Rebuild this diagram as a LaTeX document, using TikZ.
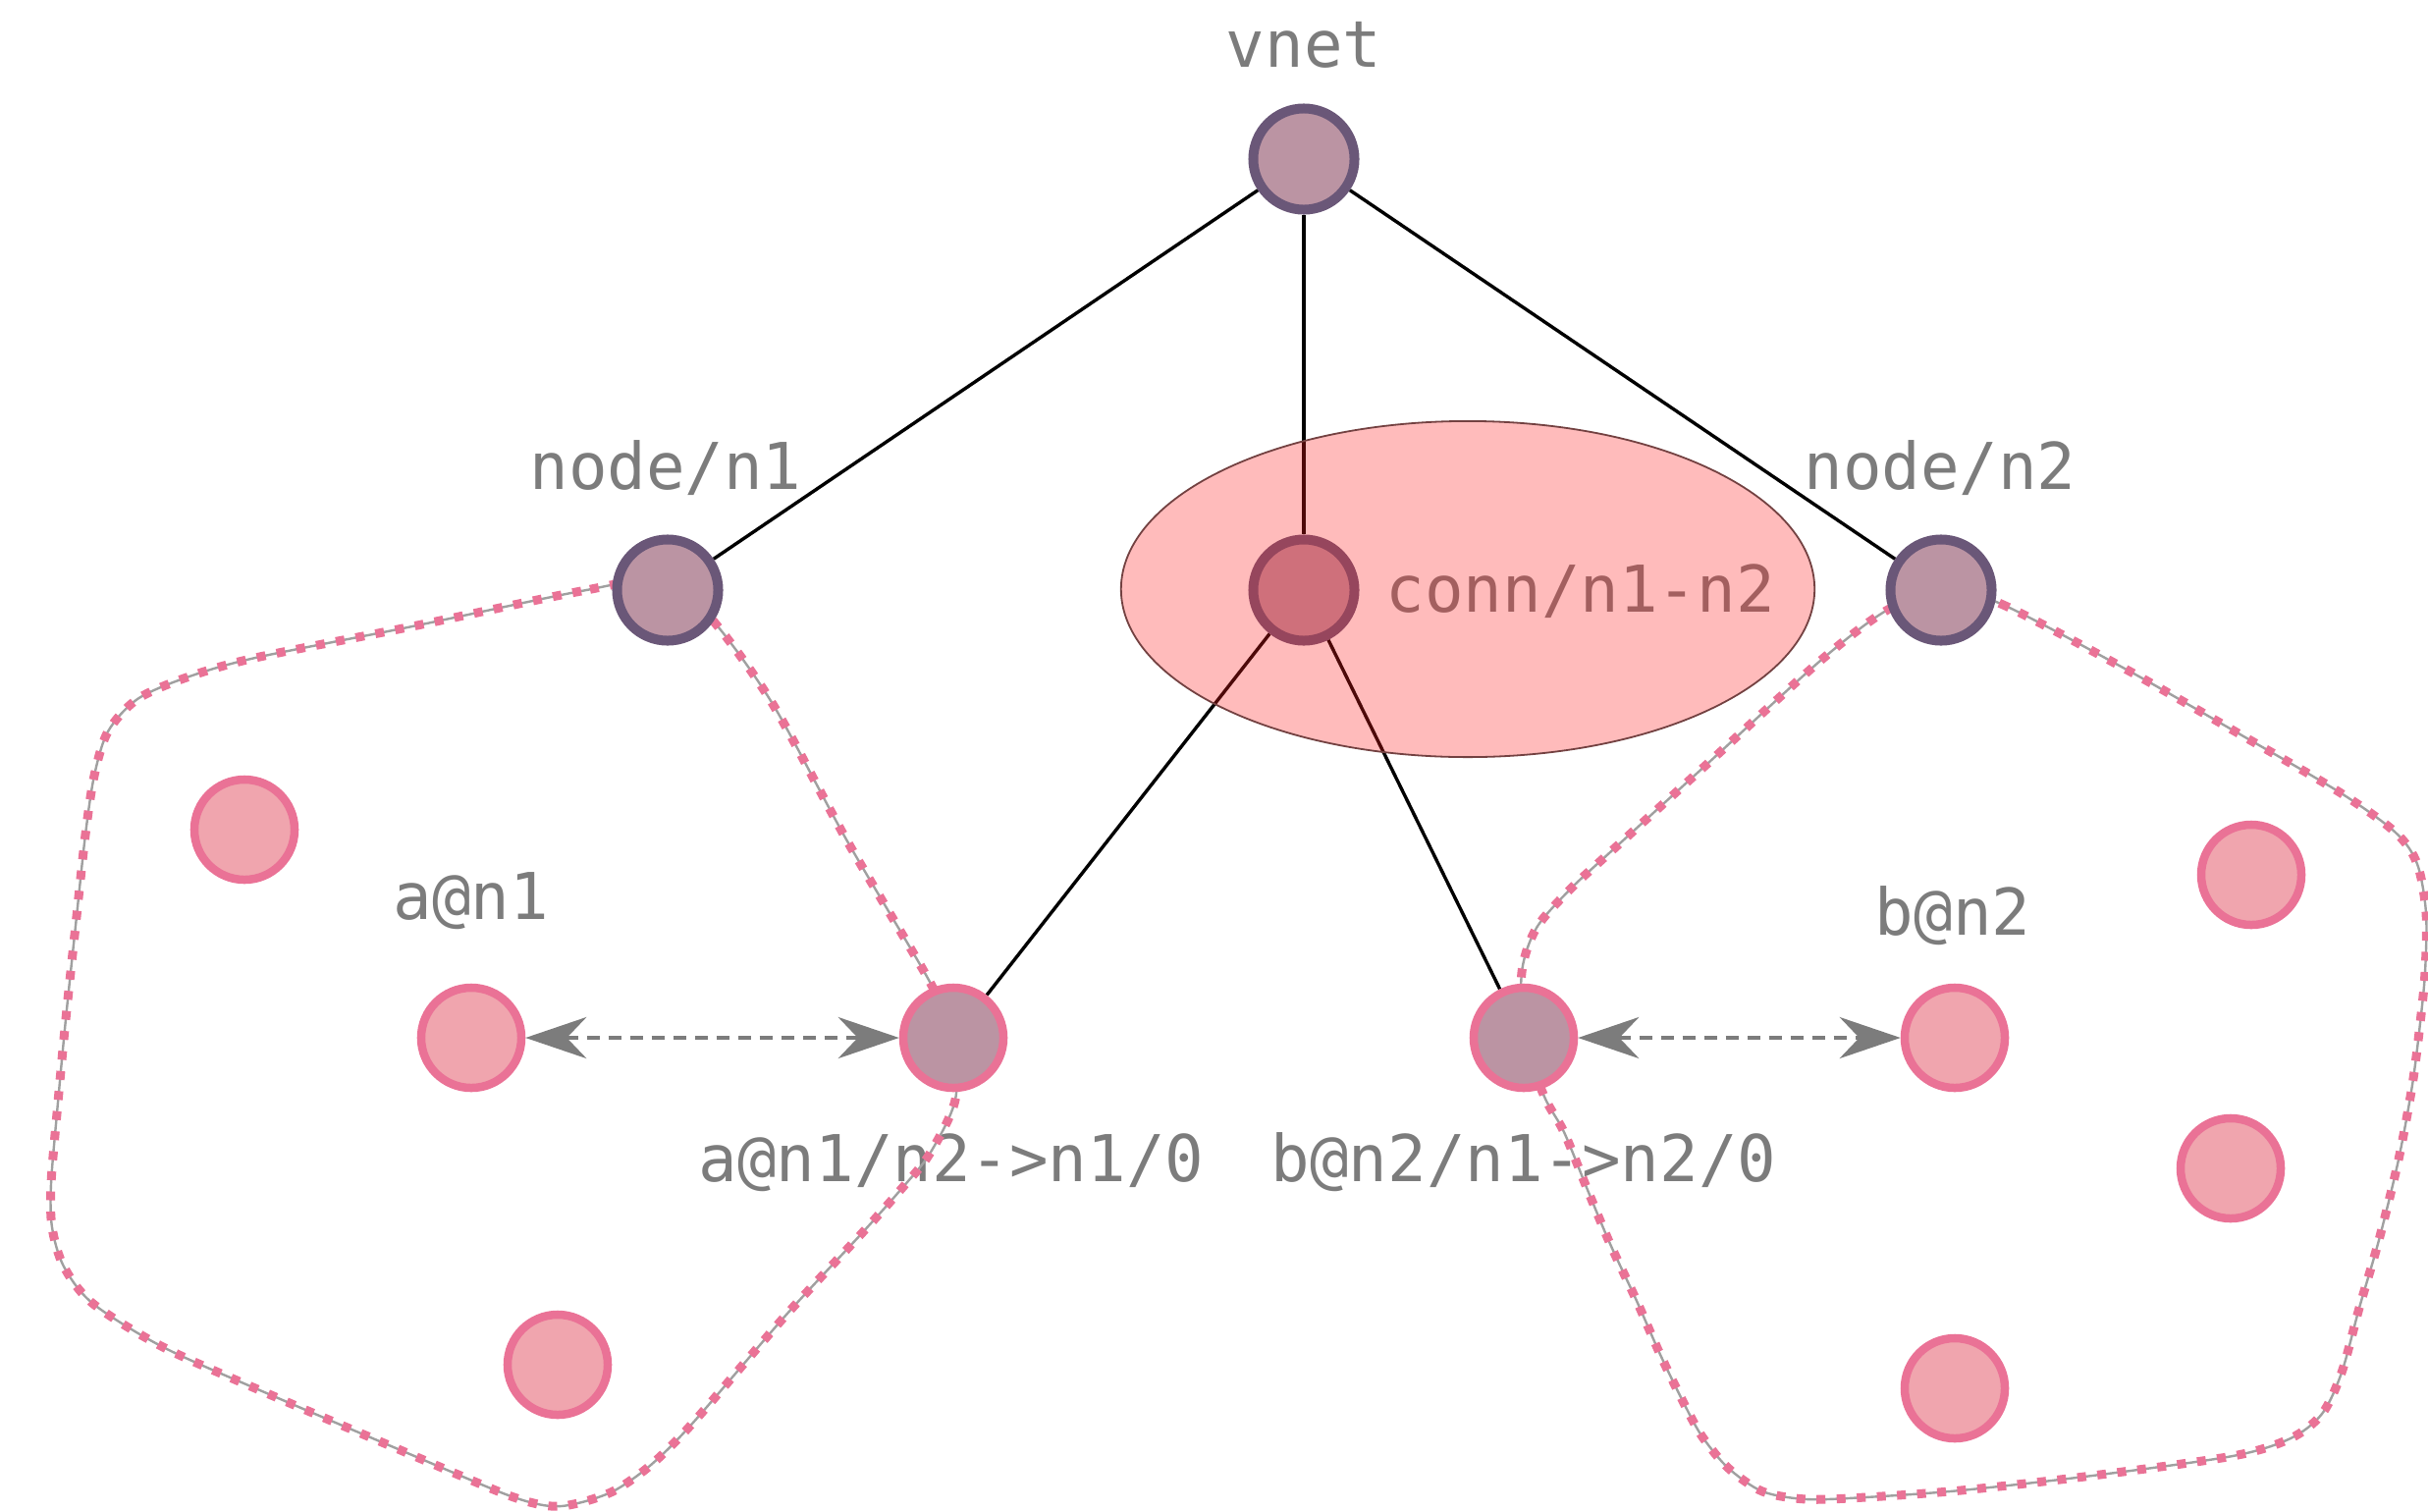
\documentclass[tikz,border=0pt]{standalone}
\usepackage{fontspec}
\newfontfamily\lblfont{DejaVu Sans Mono}
\usetikzlibrary{arrows.meta}
\definecolor{mauve}{RGB}{187,148,163}
\definecolor{plum}{RGB}{106,87,120}
\definecolor{rose}{RGB}{240,165,174}
\definecolor{roseedge}{RGB}{234,114,150}
\definecolor{labelgray}{RGB}{124,124,124}
\definecolor{zonegray}{RGB}{160,160,160}
\definecolor{connred}{RGB}{255,31,31}
\definecolor{connedge}{RGB}{115,65,65}
\pgfdeclarelayer{edges}
\pgfdeclarelayer{labels}
\pgfdeclarelayer{zones}
\pgfdeclarelayer{overlay}
\pgfsetlayers{edges,labels,zones,main,overlay}
\begin{document}
\begin{tikzpicture}[x=0.01cm,y=-0.01cm,
  hub/.style={circle,draw=plum,fill=mauve,line width=0.1cm,minimum size=1.03cm,inner sep=0pt},
  ep/.style={circle,draw=roseedge,fill=rose,line width=0.085cm,minimum size=1.02cm,inner sep=0pt},
  port/.style={circle,draw=roseedge,fill=mauve,line width=0.085cm,minimum size=1.02cm,inner sep=0pt},
  lbl/.style={inner sep=0pt,anchor=base,text=labelgray,font=\lblfont\fontsize{18.7pt}{22pt}\selectfont},
  link/.style={black,line width=0.034cm},
  veth/.style={labelgray,line width=0.04cm,dash pattern=on 0.13cm off 0.09cm,
    {Stealth[length=0.62cm,width=0.42cm,inset=0.2cm]}-{Stealth[length=0.62cm,width=0.42cm,inset=0.2cm]}},
  zone/.style={roseedge,line width=0.09cm,dash pattern=on 0.09cm off 0.115cm,
    preaction={draw=zonegray,line width=0.024cm,solid}},
  connzone/.style={fill=connred,fill opacity=0.3,draw=connedge,line width=0.018cm},
]
\useasboundingbox (0,0) rectangle (2473,1539);

% nodes
\node[hub] (vnet) at (1328,162) {};
\node[hub] (n1) at (680,601) {};
\node[hub] (n2) at (1977,601) {};
\node[hub] (conn) at (1328,601) {};
\node[port] (pa) at (971,1057) {};
\node[port] (pb) at (1552,1057) {};
\node[ep] (ea) at (480,1057) {};
\node[ep] (eb) at (1991,1057) {};
\node[ep] (a2) at (249,845) {};
\node[ep] (a3) at (568,1390) {};
\node[ep] (b2) at (2293,891) {};
\node[ep] (b3) at (2272,1190) {};
\node[ep] (b4) at (1991,1414) {};

% tree links and veth pairs
\begin{pgfonlayer}{edges}
\draw[link] (vnet) -- (n1);
\draw[link] (vnet) -- (conn);
\draw[link] (vnet) -- (n2);
\draw[link] (conn) -- (pa);
\draw[link] (conn) -- (pb);
\draw[veth] (ea) -- (pa);
\draw[veth] (pb) -- (eb);
\end{pgfonlayer}

% labels
\begin{pgfonlayer}{labels}
\node[lbl] (lvnet) at (1328,68) {vnet};
\node[lbl] (ln1) at (678,498) {node/n1};
\node[lbl] (ln2) at (1976,498) {node/n2};
\node[lbl,anchor=base west] (lconn) at (1411,623) {conn/n1-n2};
\node[lbl] (lea) at (480,936) {a@n1};
\node[lbl] (leb) at (1989,952) {b@n2};
\node[lbl] (lpa) at (969,1203) {a@n1/n2->n1/0};
\node[lbl] (lpb) at (1552,1203) {b@n2/n1->n2/0};
\end{pgfonlayer}

% namespace outlines
\begin{pgfonlayer}{zones}
\draw[zone] plot[smooth cycle] coordinates {
  (680,590) (592,602) (420,638) (260,670) (190,690) (140,712) (110,745)
  (96,790) (87,850) (77,943) (67,1038) (58,1134) (52,1206) (53,1250)
  (65,1290) (95,1328) (168,1373) (281,1423) (408,1477) (510,1520)
  (548,1532) (572,1534) (600,1528) (628,1517) (663,1492) (705,1450)
  (800,1340) (877,1257) (918,1211) (947,1175) (973,1120) (971,1057)
  (947,1000) (862,855) (787,717) (727,633)};
\draw[zone] plot[smooth cycle] coordinates {
  (1977,601) (2038,615) (2166,682) (2273,743) (2383,807) (2440,848)
  (2462,880) (2471,930) (2470,990) (2465,1042) (2457,1105) (2443,1181)
  (2423,1263) (2403,1332) (2385,1398) (2365,1440) (2333,1465) (2274,1483)
  (2131,1503) (1997,1518) (1900,1525) (1840,1527) (1795,1519) (1760,1495)
  (1735,1465) (1720,1439) (1693,1384) (1667,1325) (1640,1267) (1617,1212)
  (1593,1153) (1573,1117) (1552,1057) (1550,990) (1565,945) (1600,905)
  (1640,868) (1740,777) (1854,673) (1921,622)};
\end{pgfonlayer}

% connection area
\begin{pgfonlayer}{overlay}
\path[connzone] (1495,600) ellipse [x radius=3.53cm, y radius=1.71cm];
\end{pgfonlayer}
\end{tikzpicture}
\end{document}
